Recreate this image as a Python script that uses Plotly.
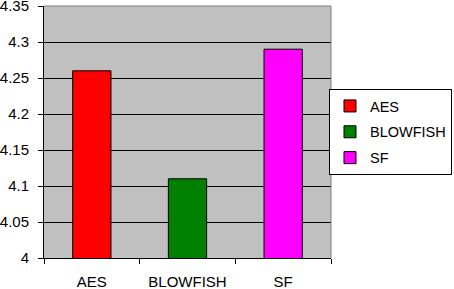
import plotly.graph_objects as go

categories = ["AES", "BLOWFISH", "SF"]
values = [4.26, 4.11, 4.29]
colors = ["#ff0000", "#008000", "#ff00ff"]
y_ticks = [4, 4.05, 4.1, 4.15, 4.2, 4.25, 4.3, 4.35]
y_tick_labels = ["4", "4.05", "4.1", "4.15", "4.2", "4.25", "4.3", "4.35"]

fig = go.Figure()
for cat, val, col in zip(categories, values, colors):
    fig.add_trace(go.Bar(
        x=[cat], y=[val], name=cat, width=0.4,
        marker=dict(color=col, line=dict(color="#000000", width=1)),
        legendgroup=cat,
    ))

font = dict(family="Liberation Sans, Arial, sans-serif", size=15, color="#000000")
legend_font = dict(family="Liberation Sans, Arial, sans-serif", size=14.5, color="#000000")

fig.update_layout(
    width=454, height=289,
    margin=dict(l=44, r=123, t=6, b=31, autoexpand=False),
    paper_bgcolor="#ffffff",
    plot_bgcolor="#c0c0c0",
    barmode="overlay",
    font=font,
    showlegend=True,
    legend=dict(
        x=1.4216, xanchor="right", xref="paper",
        y=0.6706, yanchor="top",
        bgcolor="#ffffff", bordercolor="#000000", borderwidth=1,
        font=legend_font, traceorder="grouped", tracegroupgap=4,
    ),
    xaxis=dict(
        type="category", categoryorder="array", categoryarray=categories,
        showline=True, linecolor="#000000", linewidth=1,
        ticks="outside", tickson="boundaries", ticklen=5, tickcolor="#000000",
        showgrid=False, ticklabelstandoff=10,
        tickfont=font,
    ),
    yaxis=dict(
        range=[4, 4.3500001],
        tickvals=y_ticks, ticktext=y_tick_labels,
        showline=True, linecolor="#000000", linewidth=1,
        ticks="outside", ticklen=5, tickcolor="#000000",
        showgrid=True, gridcolor="#000000", gridwidth=1,
        zeroline=False, tickfont=font, ticklabelstandoff=6,
        ticklabeloverflow="allow",
    ),
    shapes=[
        dict(type="line", xref="paper", yref="paper", x0=0, x1=1, y0=1, y1=1,
             line=dict(color="#808080", width=1), layer="above"),
        dict(type="line", xref="paper", yref="paper", x0=1, x1=1, y0=0, y1=1,
             line=dict(color="#808080", width=1), layer="above"),
    ],
)

fig.write_html(
    "out.html",
    config={"displayModeBar": False},
    post_script="document.body.style.margin='0';document.body.style.padding='0';",
)
